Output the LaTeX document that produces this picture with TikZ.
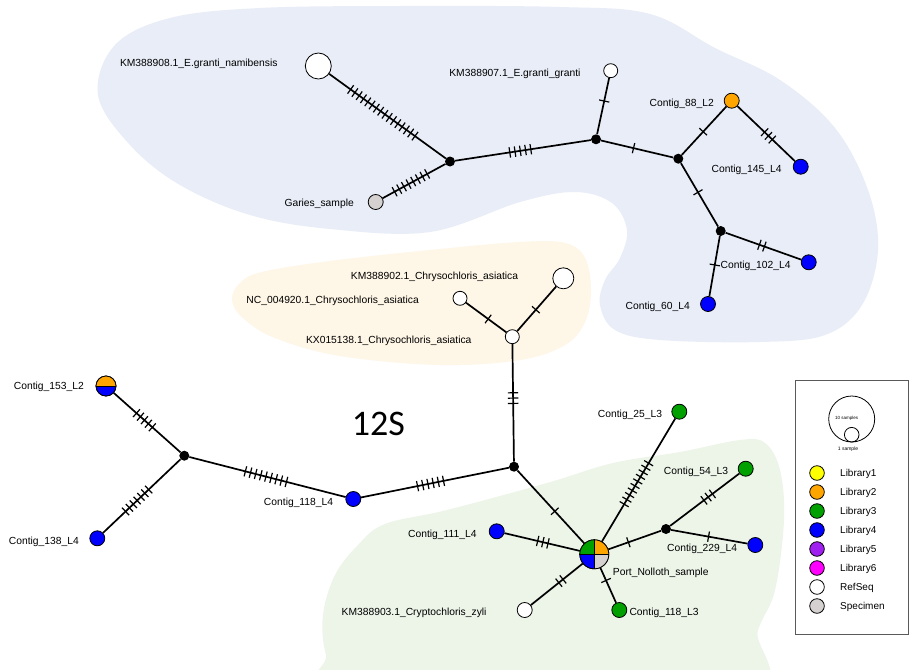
\documentclass[tikz,border=0pt]{standalone}
\usepackage{fontspec}
\setmainfont{Liberation Sans}
\newfontfamily\carlitofont{Carlito}
\usetikzlibrary{decorations.markings}
\definecolor{blobB}{RGB}{232,237,247}
\definecolor{blobY}{RGB}{254,246,230}
\definecolor{blobG}{RGB}{237,245,233}
\definecolor{libY}{RGB}{255,255,0}
\definecolor{libO}{RGB}{255,165,0}
\definecolor{libG}{RGB}{0,160,0}
\definecolor{libB}{RGB}{0,0,255}
\definecolor{libP}{RGB}{160,32,240}
\definecolor{libM}{RGB}{255,0,255}
\definecolor{spec}{RGB}{214,209,209}
\definecolor{legframe}{RGB}{90,90,90}
\tikzset{
  hap/.style={circle, draw=black, line width=0.8pt, inner sep=0pt, minimum size=#1},
  junc/.style={circle, fill=black, inner sep=0pt, minimum size=10pt},
  lnk/.style={draw=black, line width=1.7pt},
  tk/.style={draw=black, line width=1.2pt},
  mut/.style 2 args={postaction={decorate, decoration={markings,
     mark=at position #2 with {\foreach \k in {1,...,#1}{
       \draw[tk] ({(\k-0.5*(#1+1))*5.3pt},-5.2pt) -- ({(\k-0.5*(#1+1))*5.3pt},5.2pt);}}}}},
  lab/.style={inner sep=0pt, font=\fontsize{10.3}{12}\selectfont},
  leglab/.style={inner sep=0pt, font=\fontsize{10}{12}\selectfont},
}
\begin{document}
\begin{tikzpicture}[x=1pt,y=-1pt]
\clip (0,0) rectangle (909,669);
\fill[white] (0,0) rectangle (909,669);
% background blobs
\fill[blobB] plot[smooth cycle, tension=0.6] coordinates {
 (98,95) (115,45) (170,18) (260,8) (400,6) (560,7) (650,14) (715,48) (780,80)
 (835,128) (868,190) (878,250) (862,305) (825,335) (760,342) (660,340) (615,330)
 (600,305) (605,280) (620,258) (627,230) (612,203) (575,192) (520,202) (430,232)
 (330,229) (250,215) (180,185) (130,145)};
\fill[blobY] plot[smooth cycle, tension=0.6] coordinates {
 (232,300) (240,283) (262,272) (330,261) (430,250) (520,242) (565,243) (585,258)
 (591,290) (585,322) (565,345) (520,360) (440,365) (340,356) (275,338) (243,318)};
\fill[blobG] plot[smooth cycle, tension=0.6] coordinates {
 (345,700) (326,655) (323,615) (335,575) (358,545) (385,524) (447,510) (547,483) (613,463)
 (680,452) (740,440) (765,443) (780,470) (784,520) (775,590) (758,630) (735,700)};

% junctions
\node[junc] (jA) at (450,161.5) {};
\node[junc] (jB) at (596,139.3) {};
\node[junc] (jC) at (678.3,158.7) {};
\node[junc] (jD) at (720.7,231) {};
\node[junc] (jE) at (184.3,455.7) {};
\node[junc] (jF) at (514,466.7) {};
\node[junc] (jG) at (666,529) {};

% haplotypes
\node[hap=26pt, fill=white] (n908) at (318.3,66) {};
\node[hap=15pt, fill=spec] (garies) at (375.7,202) {};
\node[hap=14pt, fill=white] (n907) at (610.7,70.7) {};
\node[hap=15pt, fill=libO] (c88) at (731.7,100.7) {};
\node[hap=15pt, fill=libB] (c145) at (800.7,166.7) {};
\node[hap=15pt, fill=libB] (c102) at (808.7,262.3) {};
\node[hap=15pt, fill=libB] (c60) at (708,304) {};
\node[hap=21pt, fill=white] (n902) at (563.3,278.3) {};
\node[hap=14pt, fill=white] (nc920) at (460,298.3) {};
\node[hap=14pt, fill=white] (kx138) at (512.3,336.7) {};
\node[hap=20pt] (c153) at (106,386) {};
\node[hap=15pt, fill=libB] (c138) at (97.3,538.3) {};
\node[hap=15pt, fill=libB] (c118b) at (353.3,499) {};
\node[hap=15pt, fill=libG] (c25) at (679.3,411.7) {};
\node[hap=15pt, fill=libG] (c54) at (745.7,468.7) {};
\node[hap=15pt, fill=libB] (c111) at (496.7,531.3) {};
\node[hap=15pt, fill=libB] (c229) at (755.3,545) {};
\node[hap=29pt] (port) at (594.3,554.3) {};
\node[hap=15pt, fill=white] (n903) at (524.7,610) {};
\node[hap=15pt, fill=libG] (c118c) at (619.3,610) {};

% pie charts
\begin{scope}
 \clip (c153.center) circle[radius=10pt];
 \fill[libO] ([shift={(-11,-11)}]c153.center) rectangle ([shift={(11,0)}]c153.center);
 \fill[libB] ([shift={(-11,0)}]c153.center) rectangle ([shift={(11,11)}]c153.center);
\end{scope}
\draw[line width=0.8pt] (c153.west) -- (c153.east);
\draw[line width=0.8pt] (c153.center) circle[radius=10pt];
\begin{scope}
 \clip (port.center) circle[radius=14.5pt];
 \fill[libG] (port.center) rectangle ++(-16,-16);
 \fill[libO] (port.center) rectangle ++(16,-16);
 \fill[libB] (port.center) rectangle ++(-16,16);
 \fill[spec] (port.center) rectangle ++(16,16);
\end{scope}
\draw[line width=0.8pt] (port.north) -- (port.south) (port.west) -- (port.east);
\draw[line width=0.8pt] (port.center) circle[radius=14.5pt];

% connectors
\draw[lnk, mut={16}{0.46}] (n908) -- (jA);
\draw[lnk, mut={8}{0.45}] (garies) -- (jA);
\draw[lnk, mut={5}{0.48}] (jA) -- (jB);
\draw[lnk, mut={1}{0.59}] (jB) -- (n907);
\draw[lnk, mut={1}{0.45}] (jB) -- (jC);
\draw[lnk, mut={1}{0.48}] (jC) -- (c88);
\draw[lnk, mut={3}{0.54}] (c88) -- (c145);
\draw[lnk, mut={1}{0.46}] (jC) -- (jD);
\draw[lnk, mut={2}{0.48}] (jD) -- (c102);
\draw[lnk, mut={1}{0.48}] (jD) -- (c60);
\draw[lnk, mut={1}{0.55}] (nc920) -- (kx138);
\draw[lnk, mut={1}{0.48}] (kx138) -- (n902);
\draw[lnk, mut={3}{0.46}] (kx138) -- (jF);
\draw[lnk, mut={6}{0.47}] (c118b) -- (jF);
\draw[lnk, mut={9}{0.49}] (jE) -- (c118b);
\draw[lnk, mut={5}{0.46}] (c153) -- (jE);
\draw[lnk, mut={7}{0.44}] (c138) -- (jE);
\draw[lnk, mut={1}{0.56}] (jF) -- (port);
\draw[lnk, mut={10}{0.47}] (port) -- (c25);
\draw[lnk, mut={3}{0.51}] (c111) -- (port);
\draw[lnk, mut={1}{0.38}] (port) -- (jG);
\draw[lnk, mut={3}{0.55}] (jG) -- (c54);
\draw[lnk, mut={1}{0.49}] (jG) -- (c229);
\draw[lnk, mut={2}{0.42}] (port) -- (n903);
\draw[lnk, mut={1}{0.36}] (port) -- (c118c);

% labels
\node[lab, anchor=base east] (t908) at (277.7,66.4) {KM388908.1\_E.granti\_namibensis};
\node[lab, anchor=base east] (tgaries) at (354,206.7) {Garies\_sample};
\node[lab, anchor=base east] (t907) at (580.7,76) {KM388907.1\_E.granti\_granti};
\node[lab, anchor=base east] (t88) at (714,106.4) {Contig\_88\_L2};
\node[lab, anchor=base east] (t145) at (781.7,172) {Contig\_145\_L4};
\node[lab, anchor=base east] (t102) at (790.7,268.7) {Contig\_102\_L4};
\node[lab, anchor=base east] (t60) at (690,309.7) {Contig\_60\_L4};
\node[lab, anchor=base east] (t902) at (518.3,279.7) {KM388902.1\_Chrysochloris\_asiatica};
\node[lab, anchor=base east] (t920) at (419,303.7) {NC\_004920.1\_Chrysochloris\_asiatica};
\node[lab, anchor=base east] (t138kx) at (471.7,343) {KX015138.1\_Chrysochloris\_asiatica};
\node[lab, anchor=base east] (t153) at (84,389) {Contig\_153\_L2};
\node[lab, anchor=base east] (t138) at (79,544.4) {Contig\_138\_L4};
\node[lab, anchor=base east] (t118b) at (333.3,505.4) {Contig\_118\_L4};
\node[lab, anchor=base east] (t25) at (662.3,417) {Contig\_25\_L3};
\node[lab, anchor=base east] (t54) at (728.3,474.4) {Contig\_54\_L3};
\node[lab, anchor=base east] (t111) at (476.7,537.7) {Contig\_111\_L4};
\node[lab, anchor=base east] (t229) at (737.3,551) {Contig\_229\_L4};
\node[lab, anchor=base west] (tport) at (612.7,575.4) {Port\_Nolloth\_sample};
\node[lab, anchor=base east] (t903) at (486.7,615.4) {KM388903.1\_Cryptochloris\_zyli};
\node[lab, anchor=base west] (t118c) at (629.3,615.4) {Contig\_118\_L3};

% title
\node[inner sep=0pt, anchor=base, font=\carlitofont\fontsize{36}{40}\selectfont] (title) at (378.5,435) {12S};

% legend
\node[draw=legframe, line width=1pt, inner sep=0pt, minimum width=113pt, minimum height=254pt, anchor=north west] (legend) at (795,380) {};
\node[circle, draw=black, line width=0.8pt, inner sep=0pt, minimum size=46pt] (big) at (851.7,419) {};
\node[circle, draw=black, line width=0.8pt, inner sep=0pt, minimum size=14.6pt] (small) at (851.7,434.7) {};
\node[inner sep=0pt, font=\fontsize{4.5}{5}\selectfont] (tbig) at (846.5,418) {10 samples};
\node[inner sep=0pt, font=\fontsize{5}{6}\selectfont] (tsmall) at (848,449.5) {1 sample};
\foreach \c/\t [count=\i from 0] in {libY/Library1, libO/Library2, libG/Library3, libB/Library4, libP/Library5, libM/Library6, white/RefSeq, spec/Specimen}{
  \node[hap=14.6pt, fill=\c] (leg\i) at (817,{473+19*\i}) {};
  \node[leglab, anchor=base west] (legt\i) at (840,{476.6+19*\i}) {\t};
}
\end{tikzpicture}
\end{document}
